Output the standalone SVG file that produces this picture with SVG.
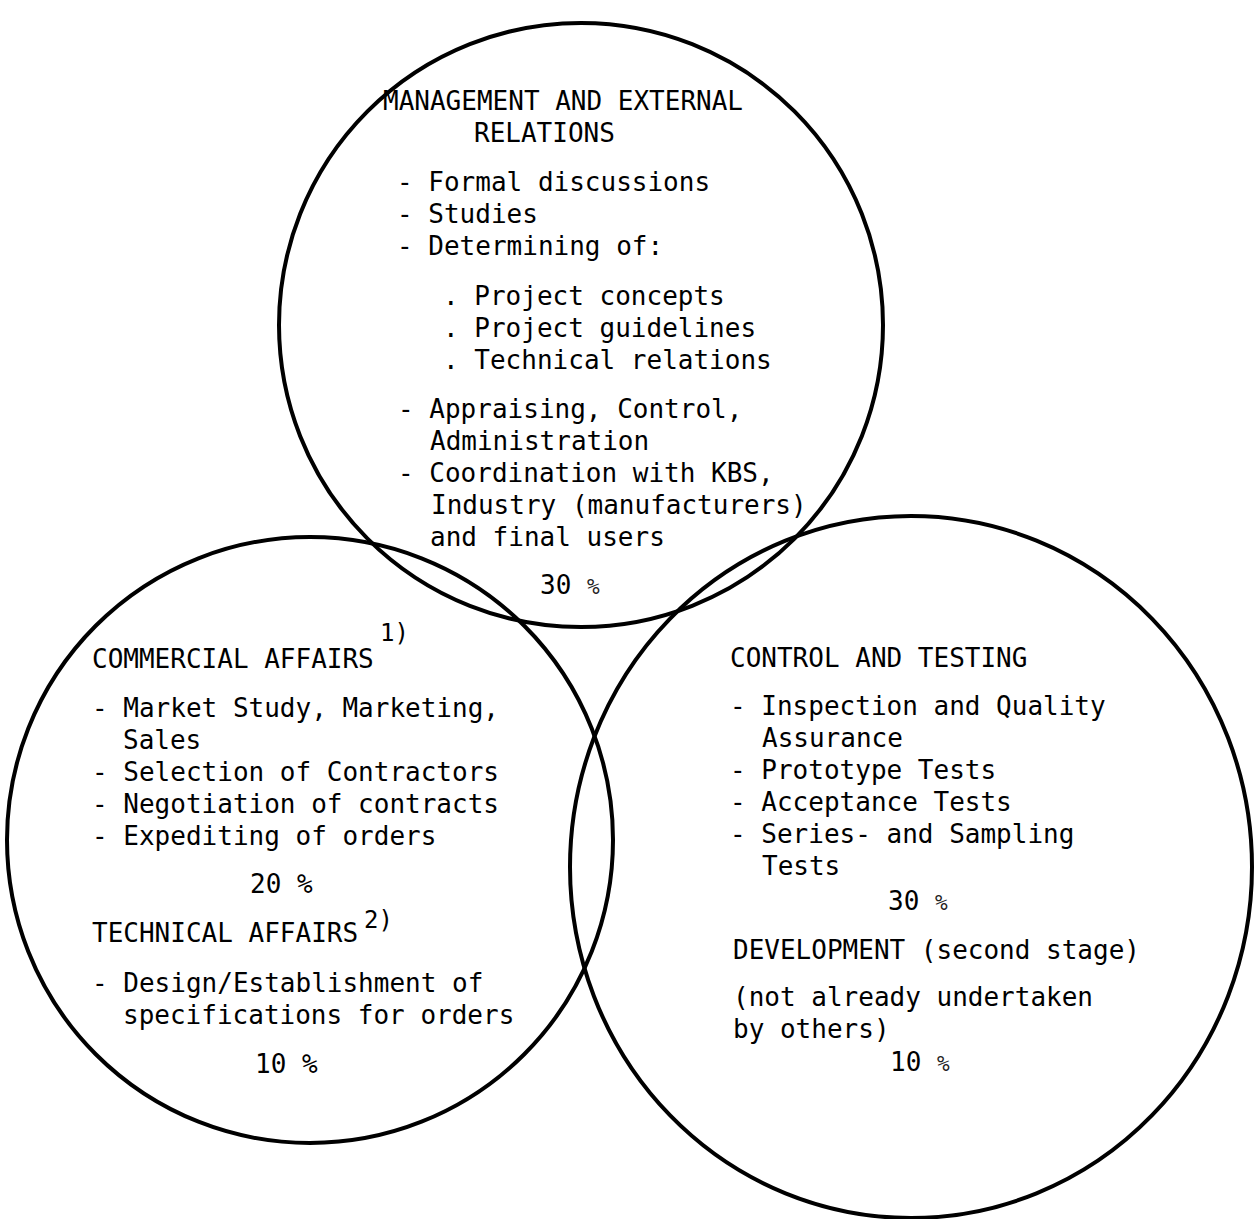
<svg xmlns="http://www.w3.org/2000/svg" width="1259" height="1219" viewBox="0 0 1259 1219">
<style>
  .c { fill: none; stroke: #000; stroke-width: 4; }
  text { font-family: "DejaVu Sans Mono", "Liberation Mono", monospace; font-size: 26px; fill: #000; }
  .sup { font-size: 24px; }
  .pc { font-size: 21px; fill: #222; }
</style>
<rect width="1259" height="1219" fill="#fff"/>
<g id="management">
  <circle class="c" cx="581" cy="325" r="302"/>
  <text x="383" y="110">MANAGEMENT AND EXTERNAL</text>
  <text x="474" y="142">RELATIONS</text>
  <text x="397" y="191">- Formal discussions</text>
  <text x="397" y="223">- Studies</text>
  <text x="397" y="255">- Determining of:</text>
  <text x="443" y="305">. Project concepts</text>
  <text x="443" y="337">. Project guidelines</text>
  <text x="443" y="369">. Technical relations</text>
  <text x="398" y="418">- Appraising, Control,</text>
  <text x="430" y="450">Administration</text>
  <text x="398" y="482">- Coordination with KBS,</text>
  <text x="431" y="514">Industry (manufacturers)</text>
  <text x="430" y="546">and final users</text>
  <text x="540" y="594">30 <tspan class="pc">%</tspan></text>
</g>
<g id="commercial">
  <circle class="c" cx="310" cy="840" r="303"/>
  <text class="sup" x="380" y="641">1)</text>
  <text x="92" y="668">COMMERCIAL AFFAIRS</text>
  <text x="92" y="717">- Market Study, Marketing,</text>
  <text x="123" y="749">Sales</text>
  <text x="92" y="781">- Selection of Contractors</text>
  <text x="92" y="813">- Negotiation of contracts</text>
  <text x="92" y="845">- Expediting of orders</text>
  <text x="250" y="893">20 %</text>
  <text x="92" y="942">TECHNICAL AFFAIRS</text>
  <text class="sup" x="364" y="928">2)</text>
  <text x="92" y="992">- Design/Establishment of</text>
  <text x="123" y="1024">specifications for orders</text>
  <text x="255" y="1073">10 %</text>
</g>
<g id="control">
  <ellipse class="c" cx="911" cy="867" rx="341" ry="351"/>
  <text x="730" y="667">CONTROL AND TESTING</text>
  <text x="730" y="715">- Inspection and Quality</text>
  <text x="762" y="747">Assurance</text>
  <text x="730" y="779">- Prototype Tests</text>
  <text x="730" y="811">- Acceptance Tests</text>
  <text x="730" y="843">- Series- and Sampling</text>
  <text x="762" y="875">Tests</text>
  <text x="888" y="910">30 <tspan class="pc">%</tspan></text>
  <text x="733" y="959">DEVELOPMENT (second stage)</text>
  <text x="733" y="1006">(not already undertaken</text>
  <text x="733" y="1038">by others)</text>
  <text x="890" y="1071">10 <tspan class="pc">%</tspan></text>
</g>
<g id="connectors"/>
</svg>
